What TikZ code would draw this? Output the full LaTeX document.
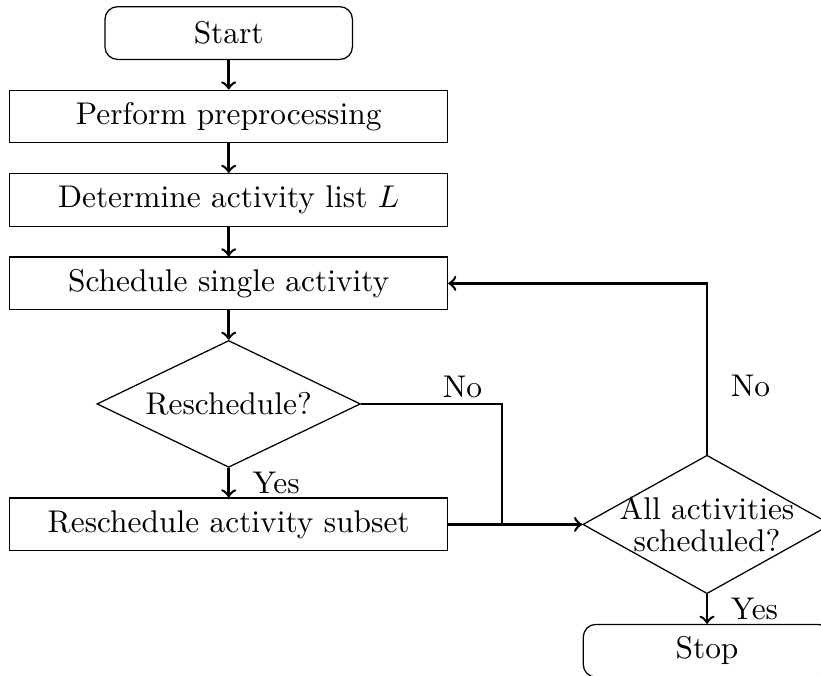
\documentclass[tikz,border=0pt]{standalone}
\usetikzlibrary{shapes,arrows,positioning}

\begin{document}
\begin{tikzpicture}[
  node distance=0.33cm,
  auto,
  box/.style={
    rectangle,
    draw=black,
    fill=white,
    text=black,
    minimum width=4.9cm,
    minimum height=0.59cm,
    text centered
  },
  terminal/.style={
    rectangle,
    rounded corners,
    draw=black,
    fill=white,
    minimum width=2.77cm,
    minimum height=0.59cm,
    text centered
  },
  decision/.style={
    diamond,
    aspect=2,
    draw=black,
    fill=white,
    inner sep=0pt,
    text centered
  },
  arrow/.style={
    ->,
    thick,
    draw=black
  },
  line/.style={
    thick,
    draw=black
  },
  answer/.style={
    inner sep=1.5pt
  }
]

\useasboundingbox (0,0) rectangle (9.19,-7.56);

\node[terminal] (start) at (2.56,-0.37) {Start};
\node[box, below=of start] (preproc) {Perform preprocessing};
\node[box, below=of preproc] (actlist) {Determine activity list $L$};
\node[box, below=of actlist] (single) {Schedule single activity};
\node[decision, below=of single, minimum width=2.95cm, minimum height=1.42cm] (resched) {Reschedule?};
\node[box, below=of resched] (subset) {Reschedule activity subset};
\node[decision, right=1.5cm of subset, minimum width=2.78cm, minimum height=1.55cm,
  label={[align=center]center:All activities\\[-2pt]scheduled?}] (alldone) {};
\node[terminal, below=of alldone] (stop) {Stop};
\coordinate[right=0.6cm of subset] (join);

\draw[arrow] (start) -- (preproc);
\draw[arrow] (preproc) -- (actlist);
\draw[arrow] (actlist) -- (single);
\draw[arrow] (single) -- (resched);
\draw[arrow] (resched) -- node[answer, right=2mm] {Yes} (subset);
\draw[line] (resched.east) -| node[answer, above, pos=0.36] {No} (join);
\draw[arrow] (subset) -- (alldone);
\draw[arrow] (alldone.north) |- node[answer, right=2mm, pos=0.2] {No} (single.east);
\draw[arrow] (alldone) -- node[answer, right=2mm] {Yes} (stop);

\end{tikzpicture}
\end{document}
